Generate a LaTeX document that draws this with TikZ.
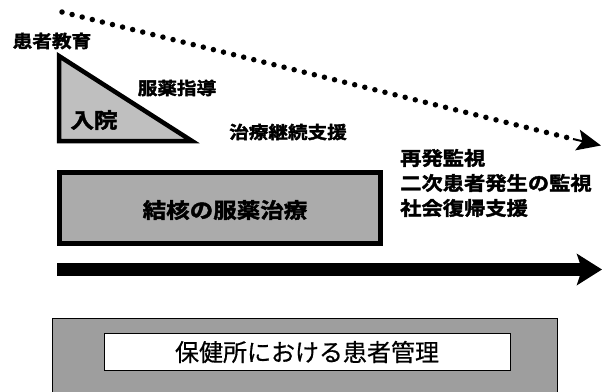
\documentclass[tikz,border=0pt]{standalone}
\usepackage{fontspec}
\newfontfamily\cjkb{Noto Sans CJK JP Bold}[FakeStretch=1.12, FakeBold=2]
\newfontfamily\cjk{Noto Sans CJK JP}[FakeBold=0.6]
\usetikzlibrary{arrows.meta}
\tikzset{
  lbl/.style={inner sep=0pt, font=\cjkb\fontsize{17.5}{17.5}\selectfont},
  dotline/.style={line width=5.5pt, dash pattern=on 0pt off 10.4pt, line cap=round},
  dottip/.style={line width=2pt, -{Stealth[length=24pt,width=21pt,inset=5pt]}},
  timearrow/.style={line width=13pt, -{Stealth[length=25pt,width=31pt,inset=5pt]}},
  boxfill/.style={fill=black!33}
}
\begin{document}
\begin{tikzpicture}[x=1pt,y=-1pt]
\useasboundingbox (0,0) rectangle (602,391);
% dotted arrow
\coordinate (d0) at (62,12);
\coordinate (dm) at (573,139);
\coordinate (d1) at (601,145.5);
\draw[dotline] (d0) -- (dm);
\draw[dottip] (dm) -- (d1);
\node[lbl] (edu) at (52,41) {患者教育};
% triangle
\draw[line width=4.5pt, line join=miter, fill=black!25] (59,56) -- (59,141) -- (192,141) -- cycle;
\node[lbl, font=\cjkb\fontsize{21}{21}\selectfont] (adm) at (94,120) {入院};
\node[lbl] (drug) at (177,88) {服薬指導};
\node[lbl] (cont) at (288,132) {治療継続支援};
% right texts
\node[lbl, font=\cjkb\fontsize{19}{19}\selectfont, anchor=west] (t1) at (400,158) {再発監視};
\node[lbl, font=\cjkb\fontsize{19}{19}\selectfont, anchor=west] (t2) at (400,183) {二次患者発生の監視};
\node[lbl, font=\cjkb\fontsize{19}{19}\selectfont, anchor=west] (t3) at (400,208) {社会復帰支援};
% treatment box
\draw[line width=5pt, boxfill] (59.5,172.5) rectangle (380.5,243.5);
\node[lbl, font=\cjkb\fontsize{21}{21}\selectfont] (tb) at (225,210) {結核の服薬治療};
% time arrow
\coordinate (a0) at (57,269.5);
\coordinate (a1) at (602,269.5);
\draw[timearrow] (a0) -- (a1);
% bottom box
\draw[line width=0.8pt, fill=black!38] (52,318) rectangle (557,395);
\node[draw, line width=1pt, fill=white, minimum width=406pt, minimum height=37pt, inner sep=0pt,
  font=\cjk\fontsize{24}{24}\selectfont] (hc) at (307,352) {保健所における患者管理};
\end{tikzpicture}
\end{document}
